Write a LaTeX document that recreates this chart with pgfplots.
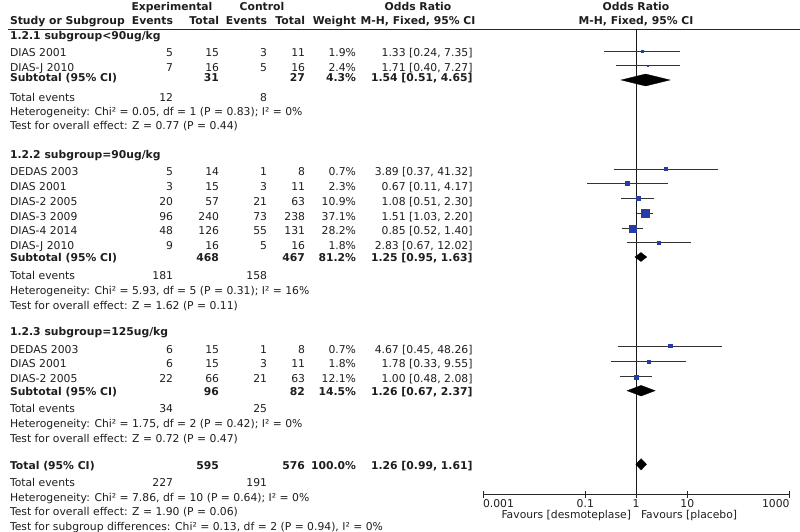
\documentclass[border=0pt]{standalone}
\usepackage{fontspec}
\setmainfont{DejaVu Sans}
\usepackage{pgfplots}
\pgfplotsset{compat=1.18}
\definecolor{sqblue}{RGB}{40,60,165}
\definecolor{txt}{RGB}{30,30,30}
\newcommand\Y[1]{{(531-#1)*1pt}}
% y, font, name, exp events, exp total, ctrl events, ctrl total, weight, OR text
\newcommand\R[9]{%
\node[anchor=base west] at (10pt,\Y{#1}) {#2#3};
\node[anchor=base east] at (173pt,\Y{#1}) {#2#4};
\node[anchor=base east] at (219pt,\Y{#1}) {#2#5};
\node[anchor=base east] at (267pt,\Y{#1}) {#2#6};
\node[anchor=base east] at (305pt,\Y{#1}) {#2#7};
\node[anchor=base east] at (356pt,\Y{#1}) {#2#8};
\node[anchor=base east] at (472.5pt,\Y{#1}) {#2#9};}
\newcommand\Tx[2]{\node[anchor=base west] at (10pt,\Y{#1}) {#2};}
% forest: OR, lo, hi, y, half size
\newcommand\Study[5]{%
\addplot[black!80, line width=0.8pt] coordinates {(#2,#4) (#3,#4)};
\addplot[only marks, mark=square*, mark size=#5pt, color=sqblue] coordinates {(#1,#4)};}
% diamond: OR, lo, hi, y-h, y, y+h
\newcommand\Dia[6]{%
\addplot[fill=black, draw=black, line width=0.3pt] coordinates {(#2,#5) (#1,#6) (#3,#5) (#1,#4)} -- cycle;}
\begin{document}
\begin{tikzpicture}[every node/.style={inner sep=0pt, outer sep=0pt, font=\fontsize{10.8}{12}\selectfont, text=txt}]
\path[use as bounding box] (0,0) rectangle (800pt,531pt);
% header
\node[anchor=base] at (172pt,\Y{10.5}) {\bfseries Experimental};
\node[anchor=base] at (262pt,\Y{10.5}) {\bfseries Control};
\node[anchor=base] at (418pt,\Y{10.5}) {\bfseries Odds Ratio};
\node[anchor=base] at (636pt,\Y{10.5}) {\bfseries Odds Ratio};
\R{24.5}{\bfseries}{Study or Subgroup}{Events}{Total}{Events}{Total}{Weight}{}
\node[anchor=base] at (418pt,\Y{24.5}) {\bfseries M-H, Fixed, 95\% CI};
\node[anchor=base] at (636pt,\Y{24.5}) {\bfseries M-H, Fixed, 95\% CI};
\draw[black!85, line width=0.8pt] (8pt,\Y{29}) -- (800pt,\Y{29});
% group 1
\Tx{40}{\bfseries 1.2.1 subgroup<90ug/kg}
\R{56.5}{\relax}{DIAS 2001}{5}{15}{3}{11}{1.9\%}{1.33 [0.24, 7.35]}
\R{71.5}{\relax}{DIAS-J 2010}{7}{16}{5}{16}{2.4\%}{1.71 [0.40, 7.27]}
\R{82}{\bfseries}{Subtotal (95\% CI)}{}{31}{}{27}{4.3\%}{1.54 [0.51, 4.65]}
\R{101.5}{\relax}{Total events}{12}{}{8}{}{}{}
\Tx{115.5}{Heterogeneity: Chi² = 0.05, df = 1 (P = 0.83); I² = 0\%}
\Tx{130}{Test for overall effect: Z = 0.77 (P = 0.44)}
% group 2
\Tx{158.5}{\bfseries 1.2.2 subgroup=90ug/kg}
\R{175.5}{\relax}{DEDAS 2003}{5}{14}{1}{8}{0.7\%}{3.89 [0.37, 41.32]}
\R{190}{\relax}{DIAS 2001}{3}{15}{3}{11}{2.3\%}{0.67 [0.11, 4.17]}
\R{205}{\relax}{DIAS-2 2005}{20}{57}{21}{63}{10.9\%}{1.08 [0.51, 2.30]}
\R{220}{\relax}{DIAS-3 2009}{96}{240}{73}{238}{37.1\%}{1.51 [1.03, 2.20]}
\R{234.5}{\relax}{DIAS-4 2014}{48}{126}{55}{131}{28.2\%}{0.85 [0.52, 1.40]}
\R{249}{\relax}{DIAS-J 2010}{9}{16}{5}{16}{1.8\%}{2.83 [0.67, 12.02]}
\R{261.5}{\bfseries}{Subtotal (95\% CI)}{}{468}{}{467}{81.2\%}{1.25 [0.95, 1.63]}
\R{279}{\relax}{Total events}{181}{}{158}{}{}{}
\Tx{294}{Heterogeneity: Chi² = 5.93, df = 5 (P = 0.31); I² = 16\%}
\Tx{309}{Test for overall effect: Z = 1.62 (P = 0.11)}
% group 3
\Tx{335}{\bfseries 1.2.3 subgroup=125ug/kg}
\R{353}{\relax}{DEDAS 2003}{6}{15}{1}{8}{0.7\%}{4.67 [0.45, 48.26]}
\R{367.5}{\relax}{DIAS 2001}{6}{15}{3}{11}{1.8\%}{1.78 [0.33, 9.55]}
\R{382}{\relax}{DIAS-2 2005}{22}{66}{21}{63}{12.1\%}{1.00 [0.48, 2.08]}
\R{395}{\bfseries}{Subtotal (95\% CI)}{}{96}{}{82}{14.5\%}{1.26 [0.67, 2.37]}
\R{412.5}{\relax}{Total events}{34}{}{25}{}{}{}
\Tx{427}{Heterogeneity: Chi² = 1.75, df = 2 (P = 0.42); I² = 0\%}
\Tx{442}{Test for overall effect: Z = 0.72 (P = 0.47)}
% total
\R{469}{\bfseries}{Total (95\% CI)}{}{595}{}{576}{100.0\%}{1.26 [0.99, 1.61]}
\R{486}{\relax}{Total events}{227}{}{191}{}{}{}
\Tx{501}{Heterogeneity: Chi² = 7.86, df = 10 (P = 0.64); I² = 0\%}
\Tx{515.5}{Test for overall effect: Z = 1.90 (P = 0.06)}
\Tx{530}{Test for subgroup differences: Chi² = 0.13, df = 2 (P = 0.94), I² = 0\%}
% forest plot
\begin{axis}[at={(483pt,37pt)}, anchor=south west, scale only axis,
  width=306pt, height=465pt, xmode=log, xmin=0.001, xmax=1000, ymin=37, ymax=502,
  axis x line*=bottom, axis y line=none, xtick={0.001,0.1,1,10,1000},
  xticklabel=\empty, xminorticks=false, tick align=center, major tick length=7pt,
  x axis line style={-}, axis line style={black!85, line width=0.8pt},
  every tick/.style={black!85, line width=0.8pt}, clip=false]
\addplot[black!90, line width=0.8pt] coordinates {(1,37) (1,502)};
\Study{1.33}{0.24}{7.35}{480}{0.8}
\Study{1.71}{0.40}{7.27}{465.3}{0.8}
\Dia{1.54}{0.51}{4.65}{445}{451}{457}
\Study{3.89}{0.37}{41.32}{362}{1.6}
\Study{0.67}{0.11}{4.17}{347.7}{1.6}
\Study{1.08}{0.51}{2.30}{332.7}{2.0}
\Study{1.51}{1.03}{2.20}{317.7}{4.0}
\Study{0.85}{0.52}{1.40}{302.7}{3.5}
\Study{2.83}{0.67}{12.02}{288.3}{1.6}
\Dia{1.25}{0.95}{1.63}{269.5}{274}{278.5}
\Study{4.67}{0.45}{48.26}{185}{1.6}
\Study{1.78}{0.33}{9.55}{169.3}{1.6}
\Study{1.00}{0.48}{2.08}{154.3}{2.0}
\Dia{1.26}{0.67}{2.37}{135}{140.3}{145.6}
\Dia{1.26}{0.99}{1.61}{61}{66.7}{72.4}
\end{axis}
\node[anchor=base west] at (483pt,23.5pt) {0.001};
\node[anchor=base] at (585.3pt,23.5pt) {0.1};
\node[anchor=base] at (636pt,23.5pt) {1};
\node[anchor=base] at (687.3pt,23.5pt) {10};
\node[anchor=base east] at (789.5pt,23.5pt) {1000};
\node[anchor=base east] at (631pt,12.5pt) {Favours [desmoteplase]};
\node[anchor=base west] at (641pt,12.5pt) {Favours [placebo]};
\end{tikzpicture}
\end{document}
